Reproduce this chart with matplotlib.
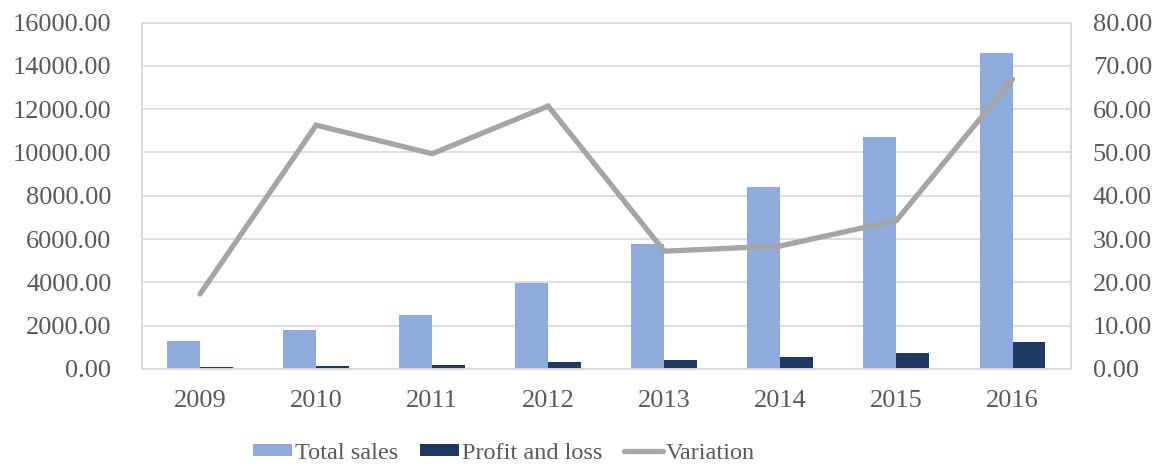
import matplotlib
matplotlib.use("Agg")
import matplotlib.pyplot as plt
import numpy as np
from matplotlib.ticker import FuncFormatter, MultipleLocator

years = ["2009", "2010", "2011", "2012", "2013", "2014", "2015", "2016"]
total_sales = [1295, 1800, 2490, 3960, 5780, 8400, 10690, 14610]
profit_loss = [80, 130, 200, 325, 420, 540, 740, 1260]
variation = [17.3, 56.3, 49.7, 60.7, 27.2, 28.4, 34.3, 66.9]

plt.rcParams['font.family'] = ['Liberation Serif', 'DejaVu Serif']
txt = '#595959'
grid_c = '#d9d9d9'
fs = 19

fig = plt.figure(figsize=(11.59, 4.67), dpi=100)
ax = fig.add_axes([0.1225, 0.2099, 0.8012, 0.7419])
ax2 = ax.twinx()

x = np.arange(len(years))
w = 0.284
b1 = ax.bar(x - w / 2, total_sales, w, color='#8FAADC', label='Total sales', zorder=2)
b2 = ax.bar(x + w / 2, profit_loss, w, color='#203864', label='Profit and loss', zorder=2)
l1, = ax2.plot(x, variation, color='#A5A5A5', lw=3.8, solid_capstyle='round',
               solid_joinstyle='miter', label='Variation', zorder=3)

ax.set_xlim(-0.5, len(years) - 0.5)
ax.set_ylim(0, 16000)
ax2.set_ylim(0, 80)
ax.yaxis.set_major_locator(MultipleLocator(2000))
ax2.yaxis.set_major_locator(MultipleLocator(10))
ax.yaxis.set_major_formatter(FuncFormatter(lambda v, p: f"{v:.2f}"))
ax2.yaxis.set_major_formatter(FuncFormatter(lambda v, p: f"{v:.2f}"))
ax.set_xticks(x)
ax.set_xticklabels(years)

ax.grid(axis='y', color=grid_c, lw=1.2, zorder=0)
ax.set_axisbelow(True)
for a in (ax, ax2):
    for s in a.spines.values():
        s.set_color(grid_c)
        s.set_linewidth(1.2)
    a.tick_params(length=0, labelsize=fs, labelcolor=txt)
ax.tick_params(axis='y', pad=22)
ax2.tick_params(axis='y', pad=16)
ax.tick_params(axis='x', pad=15)

ax.set_zorder(1)
ax2.set_zorder(2)
ax2.patch.set_visible(False)

fig.legend([b1, b2, l1], ['Total sales', 'Profit and loss', 'Variation'],
           loc='lower center', bbox_to_anchor=(0.435, -0.04), ncol=3, frameon=False,
           fontsize=17.5, labelcolor=txt, handlelength=1.6, handleheight=0.42,
           handletextpad=0.12, columnspacing=0.9)

fig.savefig('out.png', dpi=100)
